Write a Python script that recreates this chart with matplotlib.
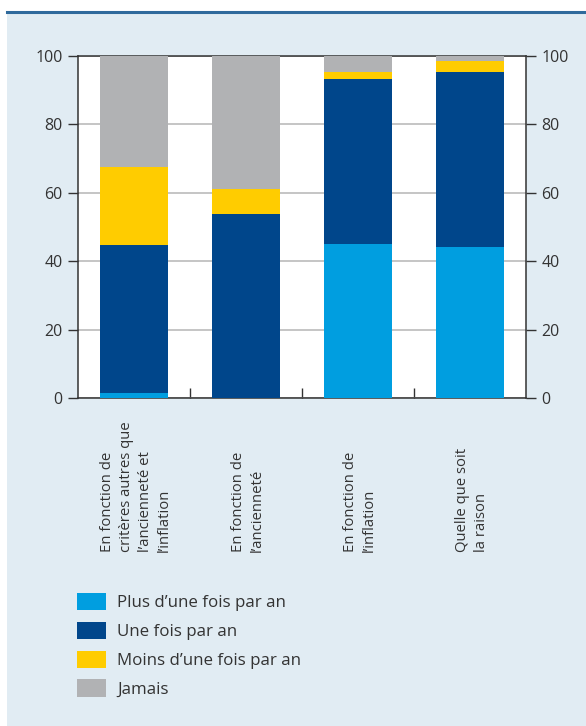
import numpy as np
import matplotlib.pyplot as plt
from matplotlib.patches import Rectangle
from matplotlib.lines import Line2D

plt.rcParams['font.family'] = ['Open Sans', 'DejaVu Sans']

categories = [
    "En fonction de\ncritères autres que\nl’ancienneté et\nl’inflation",
    "En fonction de\nl’ancienneté",
    "En fonction de\nl’inflation",
    "Quelle que soit\nla raison",
]
series = ["Plus d’une fois par an", "Une fois par an", "Moins d’une fois par an", "Jamais"]
plus_une = [1.5, 0.0, 45.1, 44.2]
une_fois = [43.2, 53.7, 48.2, 51.1]
moins_une = [22.8, 7.4, 2.1, 3.2]
jamais = [32.5, 38.9, 4.6, 1.5]
colors = ["#009EE0", "#00468B", "#FFCC00", "#B1B2B4"]

W, H = 586, 726
fig = plt.figure(figsize=(W / 100, H / 100), dpi=100, facecolor="white")

# fond bleu clair + filet en haut
fig.patches.append(Rectangle((7 / W, 0), 1 - 7 / W, 1 - 12 / H, transform=fig.transFigure,
                             facecolor="#E1ECF3", edgecolor="none", zorder=-5))
fig.lines.append(Line2D([7 / W, 1], [1 - 11.5 / H, 1 - 11.5 / H], transform=fig.transFigure,
                        color="#2F6A9C", lw=2.2, zorder=-4))

ax = fig.add_axes([78 / W, 1 - 398 / H, 448 / W, 342 / H])
ax.set_facecolor("white")

x = np.arange(len(categories))
bottom = np.zeros(len(categories))
for vals, lab, col in zip([plus_une, une_fois, moins_une, jamais], series, colors):
    ax.bar(x, vals, 0.6, bottom=bottom, color=col, label=lab, zorder=3)
    bottom += np.array(vals)

ax.set_xlim(-0.5, len(categories) - 0.5)
ax.set_ylim(0, 100)
ax.set_yticks([0, 20, 40, 60, 80, 100])
ax.yaxis.grid(True, color="#B5B5B5", lw=1.1, zorder=0)
ax.set_axisbelow(True)
ax.tick_params(axis="y", which="both", direction="out", length=7, width=1, color="#333333",
               labelsize=11.5, labelcolor="#333333", pad=4, right=True, labelright=True)

ax.set_xticks(x[:-1] + 0.5)
ax.set_xticklabels([])
ax.tick_params(axis="x", direction="in", length=7, width=1, color="#333333")

for s in ax.spines.values():
    s.set_color("#333333")
    s.set_linewidth(1.1)

# libellés verticaux, bas du texte à y=552px
for xi, lab in zip(x, categories):
    xf = ax.transData.transform((xi, 0))[0] / W
    fig.text(xf + 2 / W, 1 - 552 / H, lab, rotation=90, ha="center", va="bottom",
             multialignment="left", fontsize=10.7, linespacing=1.35, color="#333333")

handles, labels = ax.get_legend_handles_labels()
leg = fig.legend(handles, labels, loc="upper left", bbox_to_anchor=(77 / W, 1 - 593 / H),
                 frameon=False, fontsize=12.2, handlelength=1.72, handleheight=1.18,
                 handletextpad=0.65, labelspacing=0.62, borderaxespad=0, borderpad=0)
for t in leg.get_texts():
    t.set_color("#333333")

fig.savefig("out.png", dpi=100, facecolor="white")
